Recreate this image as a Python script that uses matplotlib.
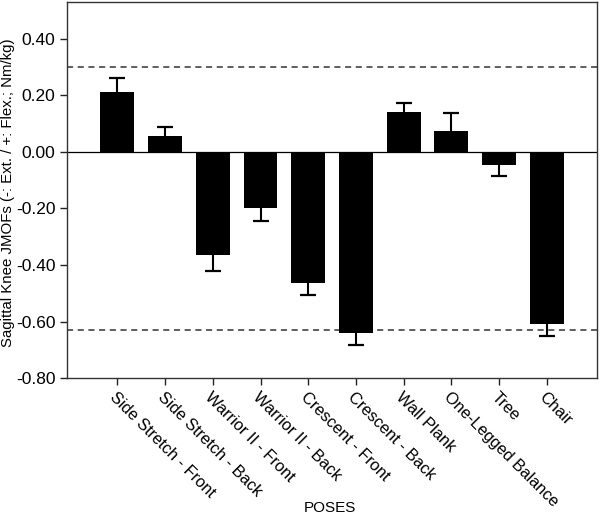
import numpy as np
import matplotlib
matplotlib.use("Agg")
import matplotlib.pyplot as plt

plt.rcParams['font.family'] = ['Liberation Sans', 'DejaVu Sans']

poses = ['Side Stretch - Front', 'Side Stretch - Back', 'Warrior II - Front',
         'Warrior II - Back', 'Crescent - Front', 'Crescent - Back',
         'Wall Plank', 'One-Legged Balance', 'Tree', 'Chair']
means = [0.213, 0.057, -0.365, -0.198, -0.465, -0.640, 0.143, 0.074, -0.046, -0.608]
errors = [0.049, 0.030, 0.057, 0.047, 0.042, 0.044, 0.031, 0.062, 0.039, 0.043]
upper_ref = 0.30
lower_ref = -0.63

fig = plt.figure(figsize=(6, 5.28), dpi=100)
ax = fig.add_axes([0.112, 0.284, 0.883, 0.712])

x = np.arange(len(poses))
ax.bar(x, means, width=0.71, color='black', zorder=2)
# one-sided error bars, pointing away from zero
tips = [m + e if m > 0 else m - e for m, e in zip(means, errors)]
ax.vlines(x, means, tips, color='black', lw=1.5, zorder=3)
ax.plot(x, tips, ls='none', marker='_', ms=11, mew=1.6, color='black', zorder=3)

ax.axhline(0, color='black', lw=0.9, zorder=1)
ax.axhline(upper_ref, color='#333333', lw=1.1, ls=(0, (4, 3)), zorder=1)
ax.axhline(lower_ref, color='#333333', lw=1.1, ls=(0, (4, 3)), zorder=1)

ax.set_xlim(-1.05, len(poses) - 1 + 1.05)
ax.set_ylim(-0.80, 0.53)
ax.set_yticks([0.40, 0.20, 0.00, -0.20, -0.40, -0.60, -0.80])
ax.set_yticklabels(['0.40', '0.20', '0.00', '-0.20', '-0.40', '-0.60', '-0.80'],
                   fontsize=12.5)
ax.set_xticks(x)
ax.set_xticklabels(poses, rotation=-45, ha='left', va='top',
                   rotation_mode='anchor', fontsize=11.8)
ax.tick_params(direction='out', length=5, width=1, colors='#222222',
               labelcolor='black')
for s in ax.spines.values():
    s.set_linewidth(1)
    s.set_color('#333333')

fig.text(0.014, 0.636, 'Sagittal Knee JMOFs (-: Ext. / +: Flex.; Nm/kg)',
         rotation=90, ha='center', va='center', fontsize=10.8)
fig.text(0.55, 0.038, 'POSES', ha='center', va='center', fontsize=11)

fig.savefig('out.png', dpi=100)
